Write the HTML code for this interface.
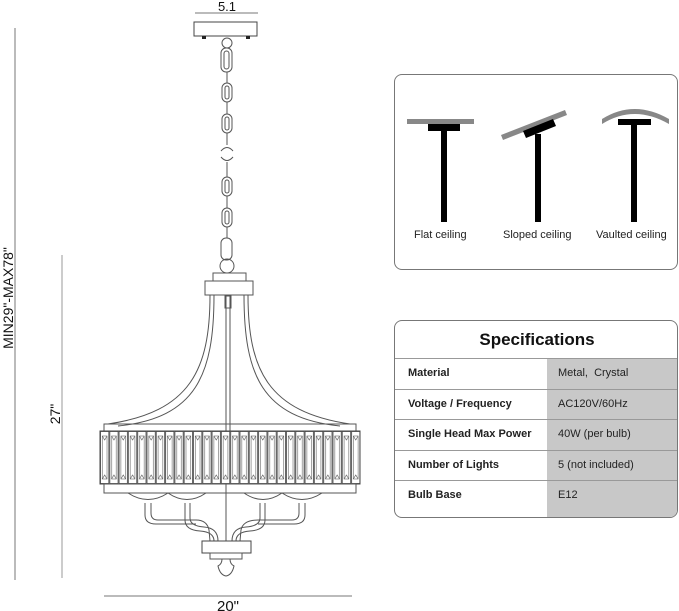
<!DOCTYPE html>
<html><head><meta charset="utf-8"><style>
html,body{margin:0;padding:0;background:#fff;}
body{width:679px;height:611px;position:relative;overflow:hidden;font-family:"Liberation Sans",Arial,sans-serif;}
.box{position:absolute;border:1.5px solid #777;border-radius:8px;box-sizing:border-box;background:#fff;}
.lbl{position:absolute;font-size:11px;color:#222;}
</style></head><body>
<svg width="679" height="611" style="position:absolute;left:0;top:0" xmlns="http://www.w3.org/2000/svg">
<defs>
<pattern id="cr" x="100" y="431" width="9.3" height="53" patternUnits="userSpaceOnUse">
<rect x="0.5" y="0.5" width="8.3" height="52" fill="#fff" stroke="#444" stroke-width="0.8"/>
<rect x="2.3" y="5" width="4.7" height="43" fill="none" stroke="#666" stroke-width="0.6"/>
<path d="M2.3 5 L4.65 9 L7 5 M2.3 48 L4.65 44 L7 48" fill="none" stroke="#555" stroke-width="0.6"/>
</pattern>
</defs>
<g stroke="#555" fill="none" stroke-width="1">
<line x1="195" y1="13" x2="258" y2="13" stroke="#777"/>
<line x1="15" y1="28" x2="15" y2="580" stroke="#777"/>
<line x1="62" y1="255" x2="62" y2="578" stroke="#aaa" stroke-width="1.2"/>
<line x1="104" y1="596" x2="352" y2="596" stroke="#777"/>
<rect x="194" y="22" width="63" height="14" stroke="#444"/>
<rect x="202" y="36" width="4" height="3" fill="#222" stroke="none"/>
<rect x="246" y="36" width="4" height="3" fill="#222" stroke="none"/>
<ellipse cx="227" cy="43" rx="5" ry="5"/>
<rect x="221" y="48" width="11" height="24" rx="5"/>
<rect x="224" y="51" width="5" height="18" rx="2.5"/>
<line x1="227" y1="72" x2="227" y2="83"/>
<rect x="222" y="83" width="10" height="19" rx="5"/><rect x="225" y="86" width="4" height="13" rx="2"/>
<line x1="227" y1="102" x2="227" y2="114"/>
<rect x="222" y="114" width="10" height="19" rx="5"/><rect x="225" y="117" width="4" height="13" rx="2"/>
<line x1="227" y1="133" x2="227" y2="145"/>
<path d="M221 151 Q227 144 233 151 M221 157 Q227 164 233 157"/>
<line x1="227" y1="162" x2="227" y2="177"/>
<rect x="222" y="177" width="10" height="19" rx="5"/><rect x="225" y="180" width="4" height="13" rx="2"/>
<line x1="227" y1="196" x2="227" y2="208"/>
<rect x="222" y="208" width="10" height="19" rx="5"/><rect x="225" y="211" width="4" height="13" rx="2"/>
<line x1="227" y1="227" x2="227" y2="238"/>
<rect x="221" y="238" width="11" height="22" rx="5"/>
<ellipse cx="227" cy="266" rx="7" ry="7"/>
<rect x="213" y="273" width="33" height="8"/>
<rect x="205" y="281" width="48" height="14"/>
<line x1="226" y1="295" x2="226" y2="541"/>
<line x1="230" y1="295" x2="230" y2="431"/>
<rect x="225" y="296" width="6" height="12"/>
<path d="M210 295 C210 370 190 412 108 424"/>
<path d="M214 295 C214 375 196 418 118 426"/>
<path d="M248 295 C248 370 268 412 350 424"/>
<path d="M244 295 C244 375 262 418 340 426"/>
<rect x="104" y="424" width="252" height="7"/>
<rect x="100" y="431" width="260" height="53" fill="url(#cr)" stroke="#444"/>
<rect x="104" y="484" width="252" height="9"/>
<path d="M128 493 Q148 506 168 493 M168 493 Q187 506 206 493 M244 493 Q263 506 282 493 M282 493 Q302 506 322 493"/>
<path d="M145 503 L145 515 Q145 524 156 524 L196 524"/>
<path d="M151 503 L151 513 Q151 520 158 520 L196 520"/>
<path d="M305 503 L305 515 Q305 524 294 524 L258 524"/>
<path d="M299 503 L299 513 Q299 520 292 520 L258 520"/>
<path d="M185 503 L185 520 Q185 530 200 531 Q214 532 214 541"/>
<path d="M190 503 L190 518 Q190 526 204 527 Q218 528 218 541"/>
<path d="M196 520 Q207 520 209 530 L210 541"/>
<path d="M265 503 L265 520 Q265 530 250 531 Q236 532 236 541"/>
<path d="M260 503 L260 518 Q260 526 246 527 Q232 528 232 541"/>
<path d="M258 520 Q243 520 241 530 L240 541"/>
<rect x="202" y="541" width="49" height="12" stroke="#444"/>
<rect x="210" y="553" width="32" height="6"/>
<path d="M222 559 Q222 564 218 566 Q220 575 226 576 Q232 575 234 566 Q230 564 230 559"/>
</g>
<g font-family="Liberation Sans, Arial, sans-serif" fill="#111">
<text x="227" y="11" font-size="13" text-anchor="middle">5.1</text>
<text x="228" y="611" font-size="15" text-anchor="middle">20"</text>
<text transform="translate(13,298) rotate(-90)" font-size="14" text-anchor="middle">MIN29"-MAX78"</text>
<text transform="translate(60,414) rotate(-90)" font-size="14" text-anchor="middle">27"</text>
</g>
</svg>

<div class="box" style="left:394px;top:74px;width:284px;height:196px;">
<svg width="284" height="196" style="position:absolute;left:-1.5px;top:-1.5px">
<rect x="13" y="45" width="67" height="5" fill="#888"/>
<rect x="34" y="50" width="32" height="7" fill="#000"/>
<rect x="47" y="57" width="6" height="91" fill="#000"/>
<polygon points="107,61 171,36 173,41 109,66" fill="#888"/>
<polygon points="129,57 159,45 162,52 132,64" fill="#000"/>
<rect x="141" y="60" width="6" height="88" fill="#000"/>
<path d="M208 50 Q240 30 275 50 L275 45 Q240 25 208 45 Z" fill="#888"/>
<rect x="224" y="45" width="33" height="6" fill="#000"/>
<rect x="237" y="51" width="6" height="97" fill="#000"/>
</svg>
<div class="lbl" style="left:19px;top:154px;">Flat ceiling</div>
<div class="lbl" style="left:108px;top:154px;">Sloped ceiling</div>
<div class="lbl" style="left:201px;top:154px;">Vaulted ceiling</div>
</div>

<div class="box" style="left:394px;top:320px;width:284px;height:198px;overflow:hidden;">
<div style="position:absolute;left:0;top:0;width:284px;height:37px;border-bottom:1px solid #999;font-size:17px;font-weight:bold;text-align:center;line-height:37px;color:#111;">Specifications</div>
<div style="position:absolute;left:152px;top:38px;width:132px;height:160px;background:#c8c8c8;"></div>
<div style="position:absolute;left:0;top:68px;width:284px;border-top:1px solid #999;"></div>
<div style="position:absolute;left:0;top:98px;width:284px;border-top:1px solid #999;"></div>
<div style="position:absolute;left:0;top:129px;width:284px;border-top:1px solid #999;"></div>
<div style="position:absolute;left:0;top:159px;width:284px;border-top:1px solid #999;"></div>
<div class="lbl" style="left:13px;top:46px;font-weight:bold;">Material</div>
<div class="lbl" style="left:13px;top:77px;font-weight:bold;">Voltage / Frequency</div>
<div class="lbl" style="left:13px;top:107px;font-weight:bold;">Single Head Max Power</div>
<div class="lbl" style="left:13px;top:138px;font-weight:bold;">Number of Lights</div>
<div class="lbl" style="left:13px;top:168px;font-weight:bold;">Bulb Base</div>
<div class="lbl" style="left:163px;top:46px;">Metal,&nbsp; Crystal</div>
<div class="lbl" style="left:163px;top:77px;">AC120V/60Hz</div>
<div class="lbl" style="left:163px;top:107px;">40W (per bulb)</div>
<div class="lbl" style="left:163px;top:138px;">5 (not included)</div>
<div class="lbl" style="left:163px;top:168px;">E12</div>
</div>
</body></html>
